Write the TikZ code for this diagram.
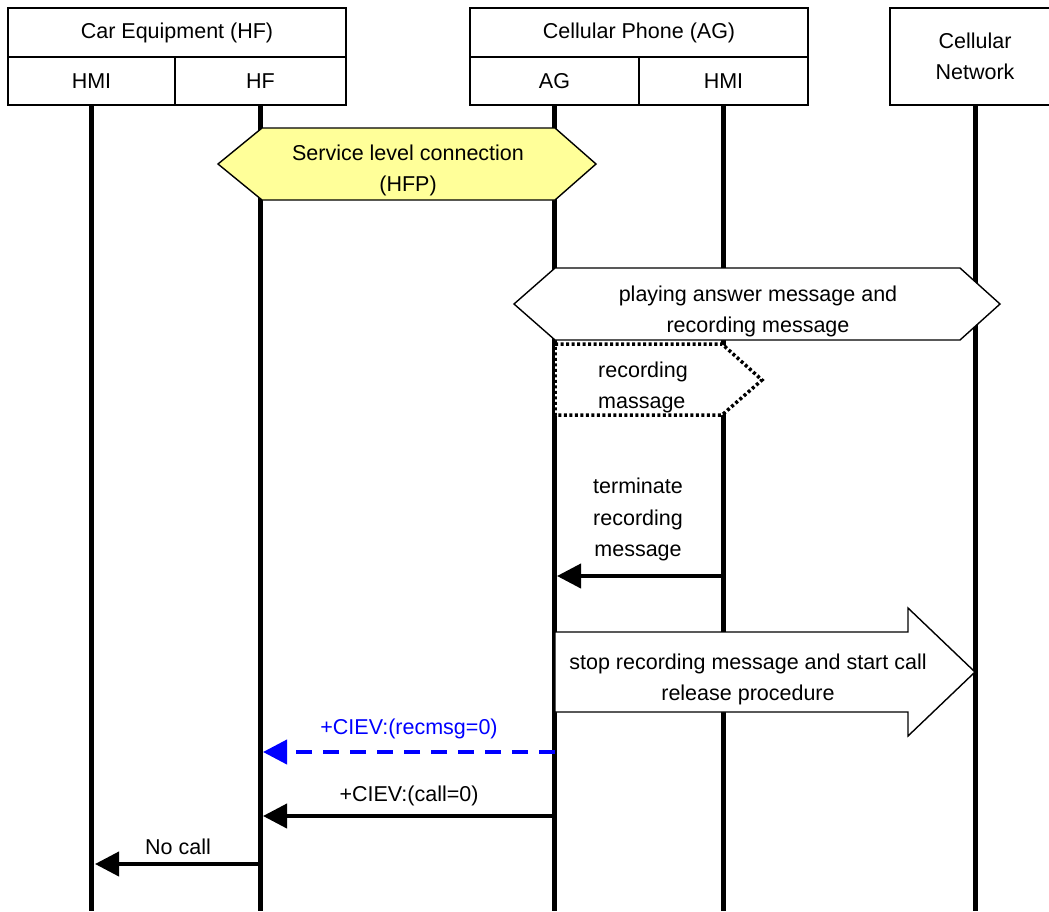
\documentclass[tikz,border=0pt]{standalone}
\usepackage{fontspec}
\setmainfont{Liberation Sans}
\usetikzlibrary{arrows.meta}

\definecolor{hfpyellow}{RGB}{255,255,153}
\definecolor{msgblue}{RGB}{0,0,255}

\tikzset{
  txtfont/.style={font=\fontsize{21.5}{31.5}\selectfont, align=center, inner sep=0pt},
  txt/.style={txtfont, yshift=-2.5pt},
  cell/.style={draw, line width=1.4pt, txtfont, minimum height=49pt},
  lifeline/.style={line width=5pt},
  msg/.style={line width=4pt, -{Triangle[length=24pt,width=24pt]}},
  outline/.style={line width=1.4pt, line join=miter}
}

\begin{document}
\begin{tikzpicture}[x=1pt, y=-1pt]

   \useasboundingbox (0,0) rectangle (1049,911);
   \clip (0,0) rectangle (1049,911);
   \coordinate (bot) at (0,911);

   % header boxes
   \node[cell, minimum width=338pt] (car) at (177,32.5) {Car Equipment (HF)};
   \node[cell, minimum width=167pt, minimum height=48pt] (hmiC) at (91.5,81) {HMI};
   \node[cell, minimum width=171pt, minimum height=48pt] (hf) at (260.5,81) {HF};
   \node[cell, minimum width=338pt] (phone) at (639,32.5) {Cellular Phone (AG)};
   \node[cell, minimum width=169pt, minimum height=48pt] (ag) at (554.5,81) {AG};
   \node[cell, minimum width=169pt, minimum height=48pt] (hmiP) at (723.5,81) {HMI};
   \node[cell, minimum width=170pt, minimum height=97pt] (net) at (975,56.5) {Cellular\\Network};

   % lifelines
   \foreach \l in {hmiC,hf,ag,hmiP,net}
      \draw[lifeline] (\l.south) -- (\l.south |- bot);

   % service level connection
   \filldraw[outline, fill=hfpyellow] (218,164) -- (262,128) -- (555,128) -- (596,164)
      -- (555,200) -- (262,200) -- cycle;
   \node[txt] (slc) at (408,168) {Service level connection\\(HFP)};

   \filldraw[outline, fill=white] (514,304) -- (555,268) -- (960,268) -- (1000,304)
      -- (960,340) -- (555,340) -- cycle;
   \node[txt] (play) at (758,309) {playing answer message and\\recording message};

   \filldraw[fill=white, draw=black, line width=3.5pt, dash pattern=on 3pt off 2.5pt]
      (555,344) -- (722,344) -- (762,380) -- (722,415) -- (555,415) -- cycle;
   \node[txt, align=left] (rec) at (643,385) {recording\\massage};

   % terminate
   \coordinate (t1) at (722,576);
   \coordinate (t2) at (557,576);
   \node[txt] (term) at (638,517) {terminate\\recording\\message};
   \draw[msg] (t1) -- (t2);

   % stop recording
   \filldraw[outline, fill=white] (555,632) -- (908,632) -- (908,608) -- (975,672)
      -- (908,736) -- (908,712) -- (555,712) -- cycle;
   \node[txt] (stop) at (748,677) {stop recording message and start call\\release procedure};

   % indications to HF
   \coordinate (r1) at (555,752);
   \coordinate (r2) at (263,752);
   \draw[msg, msgblue, dash pattern=on 16pt off 11pt] (r1) -- (r2)
      node[midway, above=14pt, txt, text=msgblue] (ciev1) {+CIEV:(recmsg=0)};

   \coordinate (c1) at (555,816);
   \coordinate (c2) at (263,816);
   \draw[msg] (c1) -- (c2) node[midway, above=11pt, txt] (ciev2) {+CIEV:(call=0)};

   \coordinate (n1) at (261,864);
   \coordinate (n2) at (95,864);
   \draw[msg] (n1) -- (n2) node[midway, above=10pt, txt] (nocall) {No call};

\end{tikzpicture}
\end{document}
